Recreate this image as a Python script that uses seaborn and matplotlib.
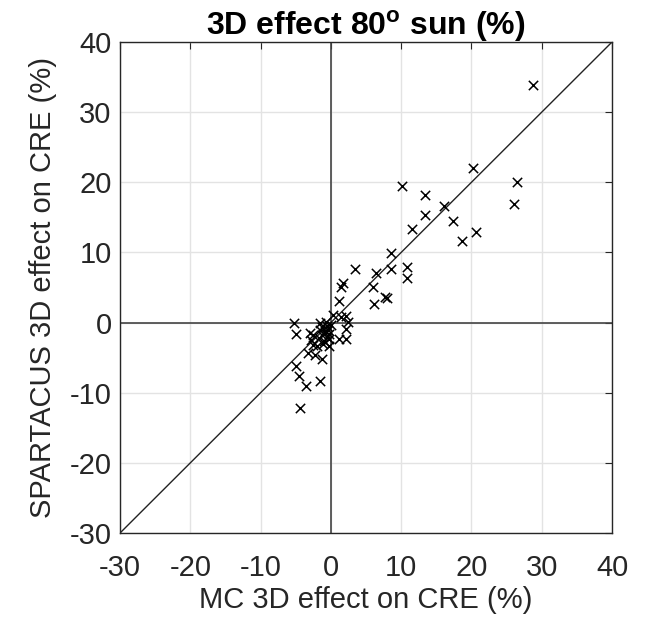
import matplotlib
matplotlib.use("Agg")
import matplotlib.pyplot as plt
import seaborn as sns
import pandas as pd

# MC vs SPARTACUS 3D effect on CRE (%)
mc_effect = [
    28.7, 20.2, 26.5, 26.0, 10.1, 13.4, 16.1, 13.4, 17.4, 11.6, 20.7, 18.6,
    8.5, 8.5, 10.8, 10.8, 7.7, 8.0, 6.4, 3.4, 6.0, 6.1, 1.7, 1.5, 1.1,
    2.1, 2.4, 2.2, 1.2, 2.1, 0.3, 1.5,
    -5.3, -5.0, -1.6, -0.7, -3.0, -2.6, -2.8, -2.6, -2.0, -3.3, -2.2, -1.2,
    -0.2, -5.0, -4.6, -3.5, -1.6, -4.4,
    -1.5, -1.2, -0.9, -0.6, -0.4, -0.2, -1.0, -1.7, -0.5, -1.3, -0.8, -0.3,
    0.0, -1.1,
]
spartacus_effect = [
    33.9, 22.1, 20.1, 16.9, 19.5, 18.2, 16.6, 15.3, 14.5, 13.3, 12.9, 11.6,
    9.9, 7.7, 7.9, 6.3, 3.6, 3.5, 7.1, 7.7, 5.1, 2.6, 5.6, 5.0, 3.1,
    0.9, 0.1, -0.9, -2.3, -2.3, 1.1, 0.8,
    0.0, -1.7, 0.0, 0.1, -1.5, -1.8, -2.5, -3.2, -3.4, -4.4, -4.6, -5.2,
    -3.4, -6.2, -7.6, -9.1, -8.4, -12.2,
    -1.0, -1.8, -1.5, -2.0, -1.0, -2.4, -2.6, -2.2, -0.5, -0.6, -1.2, -1.6,
    -0.3, -3.0,
]
ticks = [-30, -20, -10, 0, 10, 20, 30, 40]

df = pd.DataFrame({"mc": mc_effect, "spartacus": spartacus_effect})

sns.set_style("white")
plt.rcParams["font.family"] = ["Liberation Sans", "DejaVu Sans"]
plt.rcParams["mathtext.fontset"] = "custom"
plt.rcParams["mathtext.bf"] = "Liberation Sans:bold"
plt.rcParams["axes.unicode_minus"] = False

fig = plt.figure(figsize=(6.47, 6.17), dpi=100)
ax = fig.add_axes([0.1855, 0.1361, 0.7605, 0.7959])

ax.grid(True, color="#e3e3e3", linewidth=1.0)
ax.set_axisbelow(True)
ax.axhline(0, color="#444444", linewidth=1.2, zorder=1)
ax.axvline(0, color="#444444", linewidth=1.2, zorder=1)
ax.plot([-30, 40], [-30, 40], color="#222222", linewidth=1.0, zorder=1)

sns.scatterplot(data=df, x="mc", y="spartacus", marker="x", color="black",
                s=45, linewidth=1.1, ax=ax, zorder=3)

ax.set_xlim(-30, 40)
ax.set_ylim(-30, 40)
ax.set_xticks(ticks)
ax.set_yticks(ticks)
ax.tick_params(direction="in", length=5, width=0.8, labelsize=21,
               colors="#262626", top=True, right=True)
ax.tick_params(axis="x", pad=15)
ax.tick_params(axis="y", pad=6)
for sp in ax.spines.values():
    sp.set_color("#262626")
    sp.set_linewidth(1.0)

ax.set_xlabel("MC 3D effect on CRE (%)", fontsize=21, color="#262626", labelpad=3)
ax.set_ylabel("SPARTACUS 3D effect on CRE (%)", fontsize=21, color="#262626", labelpad=9)
ax.set_title(r"3D effect 80$^{\mathbf{o}}$ sun (%)", fontsize=23,
             fontweight="bold", color="black", pad=5)

fig.savefig("out.png", dpi=100)
